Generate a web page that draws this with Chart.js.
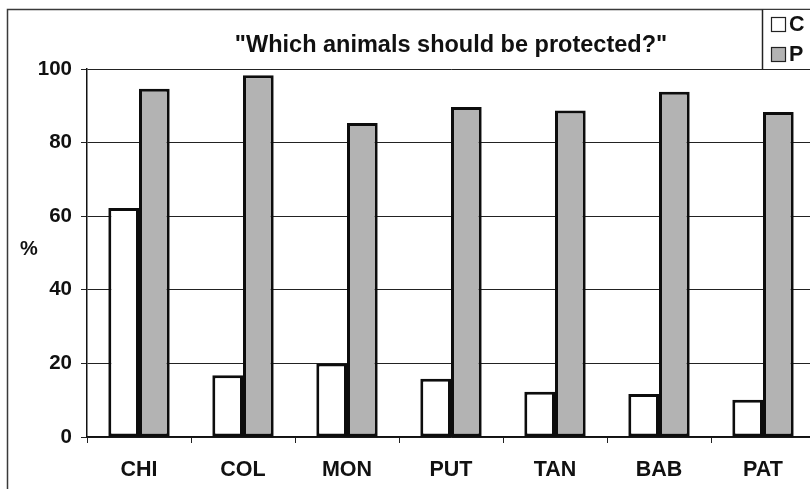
<!DOCTYPE html>
<html>
<head>
<meta charset="utf-8">
<script src="https://cdn.jsdelivr.net/npm/chart.js@4/dist/chart.umd.min.js"></script>
<style>
  html, body { margin: 0; padding: 0; background: #fff; overflow: hidden; }
  #wrap { position: absolute; left: 0; top: 0; width: 816px; height: 489px; }
</style>
</head>
<body>
<div id="wrap"><canvas id="c" width="816" height="489"></canvas></div>
<script>
// Share of respondents (%) who say each animal should be protected
const categories = ['CHI', 'COL', 'MON', 'PUT', 'TAN', 'BAB', 'PAT'];
const seriesC = [62.2, 16.8, 20.0, 15.8, 12.3, 11.7, 10.1];
const seriesP = [94.6, 98.3, 85.3, 89.7, 88.7, 93.8, 88.3];
const yTicks = [0, 20, 40, 60, 80, 100];
const titleText = '"Which animals should be protected?"';
const legendLabels = ['C', 'P'];

const FONT = '"Liberation Sans", Arial, Helvetica, sans-serif';
const GRAY = '#b3b3b3';

// Outer frame, title, "%" label and the boxed legend
const decorations = {
  id: 'decorations',
  beforeDraw(chart) {
    const ctx = chart.ctx;
    ctx.save();
    ctx.fillStyle = '#fff';
    ctx.fillRect(0, 0, chart.width, chart.height);
    ctx.strokeStyle = '#3a3a3a';
    ctx.lineWidth = 1.5;
    ctx.strokeRect(7.5, 9.5, 1000, 1000);
    ctx.restore();
  },
  afterDraw(chart) {
    const ctx = chart.ctx;
    const area = chart.chartArea;
    ctx.save();
    ctx.fillStyle = '#111';
    ctx.textAlign = 'center';
    ctx.textBaseline = 'alphabetic';
    ctx.font = 'bold 23.5px ' + FONT;
    ctx.fillText(titleText, (area.left + area.right) / 2, 52);

    ctx.font = 'bold 20px ' + FONT;
    ctx.textBaseline = 'middle';
    ctx.fillText('%', 29, 249);

    // legend box
    ctx.strokeStyle = '#222';
    ctx.lineWidth = 1.5;
    ctx.fillStyle = '#fff';
    ctx.fillRect(762, 10, 60, 58);
    ctx.beginPath();
    ctx.moveTo(762.5, 9.5);
    ctx.lineTo(762.5, 69.5);
    ctx.stroke();

    const fills = ['#ffffff', GRAY];
    const ys = [17, 47];
    ctx.textAlign = 'left';
    ctx.font = 'bold 21.5px ' + FONT;
    for (let i = 0; i < legendLabels.length; i++) {
      ctx.fillStyle = fills[i];
      ctx.fillRect(771, ys[i], 15, 15);
      ctx.strokeStyle = '#222';
      ctx.lineWidth = 1.2;
      ctx.strokeRect(771.5, ys[i] + 0.5, 14, 14);
      ctx.fillStyle = '#111';
      ctx.fillText(legendLabels[i], 789, ys[i] + 8);
    }
    ctx.restore();
  }
};

new Chart(document.getElementById('c'), {
  type: 'bar',
  data: {
    labels: categories,
    datasets: [
      {
        label: legendLabels[0],
        data: seriesC,
        backgroundColor: '#ffffff',
        borderColor: '#0d0d0d',
        borderWidth: 3,
        borderSkipped: false
      },
      {
        label: legendLabels[1],
        data: seriesP,
        backgroundColor: GRAY,
        borderColor: '#0d0d0d',
        borderWidth: 3,
        borderSkipped: false
      }
    ]
  },
  options: {
    responsive: false,
    animation: false,
    devicePixelRatio: 1,
    layout: { padding: { left: 0, top: 69, right: 1, bottom: 0 } },
    plugins: {
      legend: { display: false },
      title: { display: false },
      tooltip: { enabled: false }
    },
    datasets: {
      bar: { categoryPercentage: 0.59, barPercentage: 1.0 }
    },
    scales: {
      x: {
        afterFit(scale) { scale.height = 52; },
        grid: {
          offset: true,
          drawOnChartArea: false,
          drawTicks: true,
          tickLength: 6,
          color: '#222',
          lineWidth: 1
        },
        border: { display: true, color: '#111', width: 1.5 },
        ticks: {
          color: '#111',
          padding: 14,
          font: { family: FONT, size: 21.5, weight: 'bold' }
        }
      },
      y: {
        min: 0,
        max: 100,
        afterFit(scale) { scale.width = 87; },
        afterBuildTicks(scale) { scale.ticks = yTicks.map(v => ({ value: v })); },
        grid: {
          drawOnChartArea: true,
          drawTicks: true,
          tickLength: 6,
          color: '#222',
          lineWidth: 1
        },
        border: { display: true, color: '#111', width: 1.5 },
        ticks: {
          color: '#111',
          padding: 9,
          font: { family: FONT, size: 20.5, weight: 'bold' }
        }
      }
    }
  },
  plugins: [decorations]
});
</script>
</body>
</html>
